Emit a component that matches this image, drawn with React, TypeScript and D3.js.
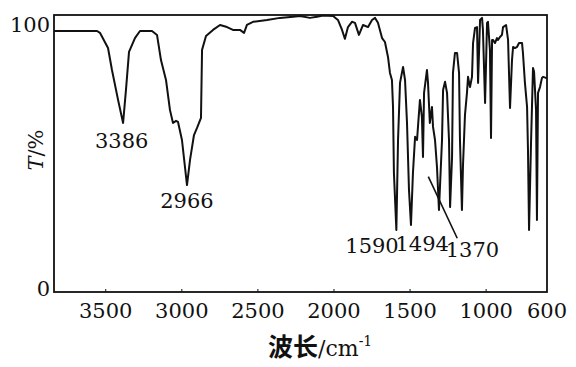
import * as d3 from 'd3';
import React, { useRef, useEffect } from 'react';

// IR spectrum: wavenumber (cm-1) and transmittance (%)
const wavenumbers = [
  3840, 3557, 3538, 3485, 3459, 3419, 3386, 3367, 3347, 3308, 3275, 3196, 3163, 3137, 3104, 3078,
  3058, 3038, 3025, 2999, 2966, 2946, 2920, 2900, 2874, 2867, 2841, 2795, 2749, 2703, 2664, 2618,
  2591, 2572, 2532, 2440, 2355, 2269, 2223, 2158, 2112, 2072, 2006, 1974, 1947, 1928, 1908, 1882,
  1862, 1836, 1809, 1776, 1750, 1730, 1711, 1684, 1665, 1645, 1632, 1619, 1612, 1606, 1590, 1579,
  1566, 1546, 1533, 1520, 1507, 1494, 1481, 1467, 1454, 1448, 1435, 1422, 1415, 1408, 1389, 1382,
  1370, 1356, 1349, 1336, 1323, 1310, 1290, 1283, 1270, 1257, 1244, 1237, 1224, 1218, 1205, 1191,
  1178, 1172, 1159, 1152, 1139, 1126, 1119, 1106, 1093, 1086, 1073, 1060, 1053, 1040, 1027, 1021,
  1007, 994, 988, 975, 968, 961, 955, 942, 929, 922, 909, 896, 889, 869, 856, 843,
  830, 823, 810, 797, 784, 764, 758, 745, 731, 725, 718, 705, 692, 685, 672, 666,
  659, 646, 633, 626, 607, 600
];
const transmittance = [
  99.6, 99.6, 98.9, 93.1, 84.7, 73.3, 64.5, 77.1, 91.6, 96.9, 99.6, 99.6, 98.1, 88.5, 80.9, 69.5,
  64.5, 65.3, 64.9, 58.0, 40.8, 50.4, 59.9, 62.6, 66.4, 92.4, 97.7, 100, 101.9, 101.1, 100, 100,
  98.9, 101.9, 103.1, 103.8, 104.6, 105.0, 105.3, 104.6, 105.0, 105.5, 105.3, 103.8, 100, 96.6, 101.1, 103.1,
  102.7, 98.1, 101.9, 101.1, 103.8, 104.6, 102.7, 96.9, 95.4, 89.7, 83.6, 80.9, 70.6, 45.4, 23.7, 58.0,
  79.8, 85.9, 80.9, 64.5, 38.9, 25.6, 45.4, 59.2, 58.0, 63.0, 73.3, 66.8, 51.5, 76.0, 84.7, 79.8,
  64.5, 70.6, 63.0, 58.0, 47.7, 31.3, 58.0, 77.1, 80.2, 76.0, 58.0, 32.4, 51.5, 83.6, 91.2, 91.2,
  83.6, 58.0, 31.3, 48.5, 67.6, 76.0, 82.1, 78.2, 82.1, 95.0, 100.8, 101.1, 79.8, 103.8, 104.6, 100,
  72.1, 102.7, 103.1, 92.4, 58.8, 96.2, 96.2, 95.0, 96.9, 96.2, 97.3, 98.1, 101.1, 101.9, 96.2, 70.2,
  88.5, 93.5, 93.1, 93.5, 95.0, 95.0, 91.2, 79.8, 70.6, 54.2, 23.7, 56.9, 85.5, 84.0, 69.5, 27.5,
  76.0, 78.2, 81.7, 82.1, 81.7, 81.5
];

const xTicks = [3500, 3000, 2500, 2000, 1500, 1000, 600];
const yTicks = [0, 100];

// peak labels: text, wavenumber it sits under, label T level
const peakLabels = ['3386', '2966', '1590', '1494', '1370'];
const peakLabelX = [3395, 2966, 1750, 1420, 1090];
const peakLabelT = [55, 32, 15, 15.5, 13.5];

function App() {
  const ref = useRef(null);
  const width = 576;
  const height = 367;
  const left = 54, right = 547, top = 15, bottom = 292;

  useEffect(() => {
    const svg = d3.select(ref.current);
    svg.selectAll('*').remove();

    const x = d3.scaleLinear().domain([3840, 600]).range([left, right]);
    const y = d3.scaleLinear().domain([0, 105.7]).range([bottom, top]);

    const serif = 'DejaVu Serif, Liberation Serif, serif';

    // frame
    svg.append('rect')
      .attr('x', left).attr('y', top)
      .attr('width', right - left).attr('height', bottom - top)
      .attr('fill', 'none').attr('stroke', '#111').attr('stroke-width', 1.8);

    // small inward ticks
    svg.selectAll('.xtick').data(xTicks.slice(0, -1)).enter()
      .append('line')
      .attr('x1', d => x(d)).attr('x2', d => x(d))
      .attr('y1', bottom).attr('y2', bottom - 3)
      .attr('stroke', '#111').attr('stroke-width', 1);

    svg.selectAll('.xlab').data(xTicks).enter()
      .append('text')
      .attr('x', d => x(d)).attr('y', 318)
      .attr('text-anchor', 'middle')
      .attr('font-family', serif).attr('font-size', 21)
      .attr('fill', '#111')
      .text(d => d);

    svg.selectAll('.ylab').data(yTicks).enter()
      .append('text')
      .attr('x', 50).attr('y', d => y(d) + (d === 0 ? 4 : 2))
      .attr('text-anchor', 'end')
      .attr('font-family', serif).attr('font-size', 21)
      .attr('fill', '#111')
      .text(d => d);

    // spectrum
    const pts = wavenumbers.map((w, i) => [w, transmittance[i]]);
    const line = d3.line().x(d => x(d[0])).y(d => y(d[1]));
    svg.append('path')
      .datum(pts)
      .attr('d', line)
      .attr('fill', 'none')
      .attr('stroke', '#111')
      .attr('stroke-width', 2)
      .attr('stroke-linejoin', 'round');

    // peak labels
    svg.selectAll('.plab').data(peakLabels).enter()
      .append('text')
      .attr('x', (d, i) => x(peakLabelX[i]))
      .attr('y', (d, i) => y(peakLabelT[i]))
      .attr('text-anchor', 'middle')
      .attr('font-family', serif).attr('font-size', 21)
      .attr('fill', '#111')
      .text(d => d);

    // leader line for 1370
    svg.append('line')
      .attr('x1', x(1380)).attr('y1', y(44))
      .attr('x2', x(1190)).attr('y2', y(20.5))
      .attr('stroke', '#111').attr('stroke-width', 1.6);

    // axis titles
    svg.append('text')
      .attr('transform', 'translate(43,150) rotate(-90)')
      .attr('text-anchor', 'middle')
      .attr('font-family', serif).attr('font-size', 21)
      .attr('fill', '#111')
      .html('<tspan font-style="italic">T</tspan>/%');

    const xt = svg.append('text')
      .attr('x', 268).attr('y', 356)
      .attr('fill', '#111');
    xt.append('tspan')
      .attr('font-family', '"Noto Sans CJK SC", sans-serif')
      .attr('font-weight', 'bold').attr('font-size', 25)
      .text('波长');
    xt.append('tspan')
      .attr('font-family', serif).attr('font-size', 22)
      .text('/cm');
    xt.append('tspan')
      .attr('font-family', serif).attr('font-size', 14)
      .attr('dy', -10)
      .text('-1');
  }, []);

  return (
    <div style={{ position: 'absolute', left: 0, top: 0, width, height, background: '#fff' }}>
      <svg ref={ref} width={width} height={height} />
    </div>
  );
}

export default App;
